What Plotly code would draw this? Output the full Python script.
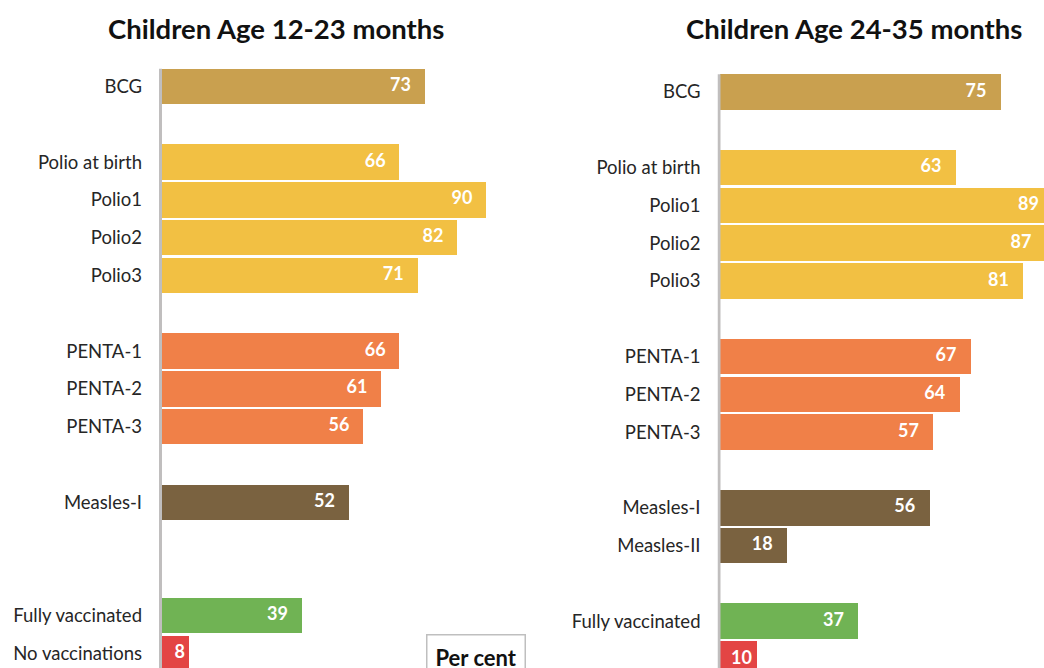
import plotly.graph_objects as go

# ---- data ----
groups = [
    ["BCG"],
    ["Polio at birth", "Polio1", "Polio2", "Polio3"],
    ["PENTA-1", "PENTA-2", "PENTA-3"],
    ["Measles-I", "Measles-II"],
    ["Fully vaccinated", "No vaccinations"],
]
group_colors = ["#C9A04F", "#F2C043", "#F08048", "#7A6240", "#70B354", "#E34544"]

values_12_23 = {
    "BCG": 73,
    "Polio at birth": 66, "Polio1": 90, "Polio2": 82, "Polio3": 71,
    "PENTA-1": 66, "PENTA-2": 61, "PENTA-3": 56,
    "Measles-I": 52, "Measles-II": None,
    "Fully vaccinated": 39, "No vaccinations": 8,
}
values_24_35 = {
    "BCG": 75,
    "Polio at birth": 63, "Polio1": 89, "Polio2": 87, "Polio3": 81,
    "PENTA-1": 67, "PENTA-2": 64, "PENTA-3": 57,
    "Measles-I": 56, "Measles-II": 18,
    "Fully vaccinated": 37, "No vaccinations": 10,
}
titles = ["Children Age 12-23 months", "Children Age 24-35 months"]
axis_title = "Per cent"

# ---- layout constants ----
W, H = 1044, 668
FONT = "Lato"
TEXT = "#262626"
AXIS_GRAY = "#C0BEBE"
SLOT_PX = 37.8
BAR_W = 0.94

# slot positions: groups separated by one blank slot
slots = {}
colors = {}
pos = 0
for gi, g in enumerate(groups):
    for c in g:
        slots[c] = pos
        colors[c] = group_colors[gi]
        pos += 1
    pos += 1
colors["No vaccinations"] = group_colors[5]

panels = [
    dict(vals=values_12_23, x_start_px=159.0, x_end_px=647.0, scale=3.62, first_center=86.5, title_x=275.7),
    dict(vals=values_24_35, x_start_px=717.5, x_end_px=1044.0, scale=3.75, first_center=92.0, title_x=854.0),
]

fig = go.Figure()
layout = dict(
    width=W, height=H, margin=dict(l=0, r=0, t=0, b=0),
    paper_bgcolor="white", plot_bgcolor="white", showlegend=False,
    bargap=0, shapes=[], annotations=[],
)

for i, p in enumerate(panels):
    n = "" if i == 0 else str(i + 1)
    xa, ya = "x" + n, "y" + n
    cats = [c for c in slots if p["vals"][c] is not None]
    xs = [p["vals"][c] for c in cats]
    ys = [slots[c] for c in cats]
    txt = [f"<b>{v}</b>" + "\u00a0" * (3 if v >= 15 else 1) for v in xs]
    fig.add_trace(go.Bar(
        x=xs, y=ys, orientation="h", width=BAR_W,
        marker=dict(color=[colors[c] for c in cats], line=dict(width=0)),
        cliponaxis=True, hoverinfo="skip", xaxis=xa, yaxis=ya,
    ))
    fig.add_trace(go.Scatter(
        x=xs, y=ys, mode="text", text=txt, textposition="middle left",
        textfont=dict(family=FONT, size=18, color="white"),
        cliponaxis=True, hoverinfo="skip", xaxis=xa, yaxis=ya,
    ))
    # axes
    d0, d1 = p["x_start_px"] / W, p["x_end_px"] / W
    r0 = -1.5 / p["scale"]
    r1 = r0 + (p["x_end_px"] - p["x_start_px"]) / p["scale"]
    layout["xaxis" + n] = dict(domain=[d0, d1], range=[r0, r1], visible=False, fixedrange=True)
    top = -p["first_center"] / SLOT_PX
    bottom = top + H / SLOT_PX
    layout["yaxis" + n] = dict(
        domain=[0, 1], range=[bottom, top], anchor=xa, fixedrange=True,
        tickmode="array", tickvals=ys, ticktext=cats,
        ticks="", showgrid=False, zeroline=False, showline=False,
        ticklabelstandoff=16,
        tickfont=dict(family=FONT, size=18.5, color=TEXT),
    )
    # vertical axis line from top of first bar to bottom
    layout["shapes"].append(dict(
        type="line", xref=xa, yref=ya, x0=0, x1=0, y0=-BAR_W / 2, y1=bottom,
        line=dict(color=AXIS_GRAY, width=3), layer="above",
    ))
    layout["annotations"].append(dict(
        text="<b>" + titles[i] + "</b>", xref="paper", yref="paper",
        x=p["title_x"] / W, y=1 - 28 / H, xanchor="center", yanchor="middle",
        showarrow=False, font=dict(family=FONT, size=27.5, color="#111111"),
    ))

layout["annotations"].append(dict(
    text="<b>" + axis_title + "</b>", xref="paper", yref="paper",
    x=476 / W, y=1 - 657 / H, xanchor="center", yanchor="middle",
    showarrow=False, font=dict(family=FONT, size=22, color="#111111"),
    bordercolor="#BFBFBF", borderwidth=1.5, borderpad=8, bgcolor="white",
))

fig.update_layout(**layout)
fig.write_html(
    "out.html",
    config={"displayModeBar": False},
    post_script="document.body.style.margin='0';document.body.style.overflow='hidden';",
)
